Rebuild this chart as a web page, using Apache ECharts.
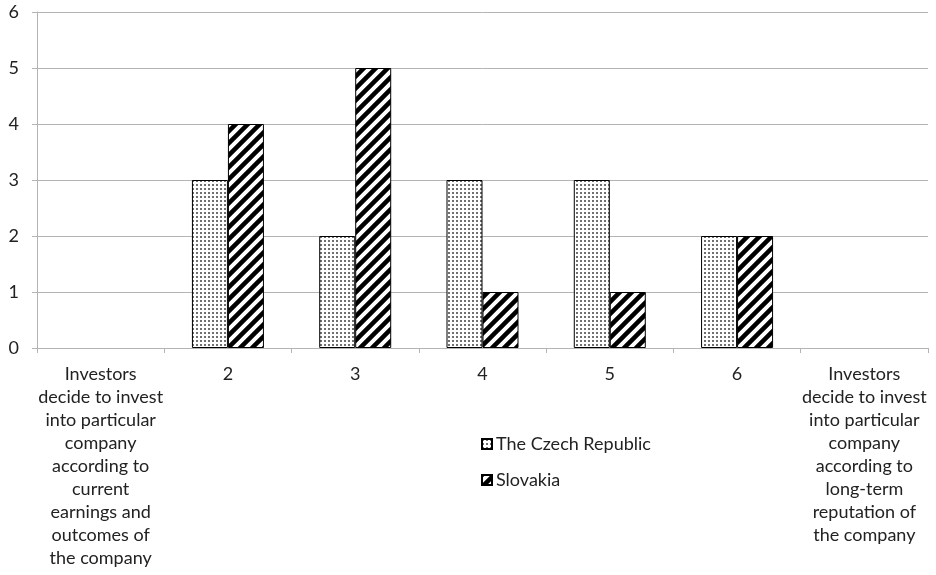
<!DOCTYPE html>
<html>
<head>
<meta charset="utf-8">
<script src="https://cdn.jsdelivr.net/npm/echarts@6/dist/echarts.min.js"></script>
<style>
  html, body { margin: 0; padding: 0; background: #fff; }
  #chart { width: 936px; height: 575px; }
</style>
</head>
<body>
<div id="chart"></div>
<script>
// Category labels (first and last are the scale's descriptive ends)
const categories = [
  'Investors\ndecide to invest\ninto particular\ncompany\naccording to\ncurrent\nearnings and\noutcomes of\nthe company',
  '2', '3', '4', '5', '6',
  'Investors\ndecide to invest\ninto particular\ncompany\naccording to\nlong-term\nreputation of\nthe company'
];
const seriesNames = ['The Czech Republic', 'Slovakia'];
const czechValues = [0, 3, 2, 3, 3, 2, 0];
const slovakiaValues = [0, 4, 5, 1, 1, 2, 0];
const yTicks = [0, 1, 2, 3, 4, 5, 6];

const FONT = 'Lato, "Liberation Sans", sans-serif';
const TEXT = '#222';
const GRID = '#b4b4b4';

// Fine dotted fill
function dotPattern() {
  const c = document.createElement('canvas');
  c.width = 4; c.height = 4;
  const g = c.getContext('2d');
  g.fillStyle = '#fff';
  g.fillRect(0, 0, 4, 4);
  g.fillStyle = '#707070';
  g.fillRect(0, 0, 2, 2);
  return { image: c, repeat: 'repeat' };
}

// Bold diagonal stripes rising to the right
function stripePattern() {
  const s = 12;
  const c = document.createElement('canvas');
  c.width = s; c.height = s;
  const g = c.getContext('2d');
  g.fillStyle = '#fff';
  g.fillRect(0, 0, s, s);
  g.strokeStyle = '#000';
  g.lineWidth = 4.5;
  g.lineCap = 'square';
  g.beginPath();
  g.moveTo(-s, s); g.lineTo(s, -s);
  g.moveTo(0, s); g.lineTo(s, 0);
  g.moveTo(0, 2 * s); g.lineTo(2 * s, 0);
  g.stroke();
  return { image: c, repeat: 'repeat' };
}

const toBar = v => (v === 0 ? null : v);

const chart = echarts.init(document.getElementById('chart'), null, { renderer: 'canvas' });
chart.setOption({
  animation: false,
  backgroundColor: '#fff',
  textStyle: { fontFamily: FONT, color: TEXT },
  grid: { left: 37, right: 8, top: 12, bottom: 227, containLabel: false },
  legend: {
    orient: 'vertical',
    left: 481,
    top: 435,
    padding: 0,
    itemWidth: 10,
    itemHeight: 10,
    itemGap: 18,
    icon: 'rect',
    textStyle: { fontFamily: FONT, fontSize: 18, lineHeight: 18, color: TEXT, padding: [0, 0, 0, -1] },
    data: seriesNames
  },
  xAxis: {
    type: 'category',
    data: categories,
    boundaryGap: true,
    axisLine: { lineStyle: { color: GRID, width: 1 } },
    axisTick: { show: true, length: 5, alignWithLabel: false, lineStyle: { color: GRID } },
    axisLabel: {
      interval: 0,
      margin: 15,
      fontFamily: FONT,
      fontSize: 18,
      lineHeight: 23,
      color: TEXT,
      align: 'center'
    },
    splitLine: { show: false }
  },
  yAxis: {
    type: 'value',
    min: yTicks[0],
    max: yTicks[yTicks.length - 1],
    interval: 1,
    axisLine: { show: true, lineStyle: { color: GRID, width: 1 } },
    axisTick: { show: true, length: 5, lineStyle: { color: GRID } },
    axisLabel: { margin: 18, fontFamily: FONT, fontSize: 18, color: TEXT },
    splitLine: { show: true, lineStyle: { color: GRID, width: 1 } }
  },
  series: [
    {
      name: seriesNames[0],
      type: 'bar',
      barWidth: 36,
      barGap: '0%',
      data: czechValues.map(toBar),
      itemStyle: { color: dotPattern(), borderColor: '#000', borderWidth: 1 }
    },
    {
      name: seriesNames[1],
      type: 'bar',
      barWidth: 36,
      barGap: '0%',
      data: slovakiaValues.map(toBar),
      itemStyle: { color: stripePattern(), borderColor: '#000', borderWidth: 1 }
    }
  ]
});
</script>
</body>
</html>
